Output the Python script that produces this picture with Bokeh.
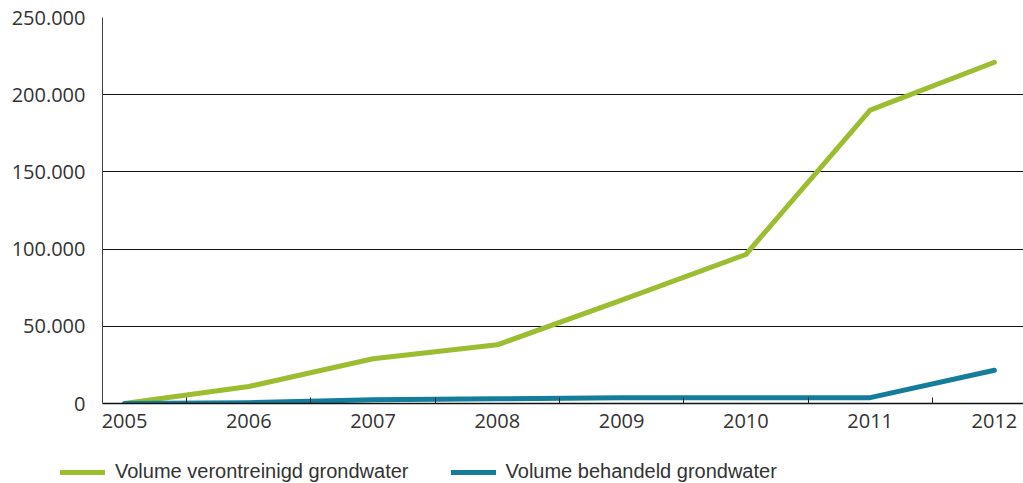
from bokeh.plotting import figure
from bokeh.layouts import column
from bokeh.models import Range1d, FixedTicker, Legend, LegendItem
from bokeh.embed import file_html
from bokeh.resources import INLINE

years = [2005, 2006, 2007, 2008, 2009, 2010, 2011, 2012]
verontreinigd = [0, 11000, 29000, 38000, 67000, 96500, 190000, 221000]
behandeld = [0, 500, 2500, 3000, 3800, 3800, 3800, 21500]
y_ticks = [0, 50000, 100000, 150000, 200000, 250000]
y_tick_labels = ["0", "50.000", "100.000", "150.000", "200.000", "250.000"]
series_names = ["Volume verontreinigd grondwater", "Volume behandeld grondwater"]

GREEN = "#9bbd2f"
BLUE = "#137d9b"
FONT = "Open Sans"
LFONT = "Liberation Sans"
TXT = "#333333"

p = figure(width=1023, height=435, output_backend="svg", toolbar_location=None,
           x_range=Range1d(2004.823, 2012.234), y_range=Range1d(0, 250000),
           min_border_left=102, min_border_top=17, min_border_right=0, min_border_bottom=32)
p.outline_line_color = None
p.background_fill_color = "white"

p.line(years, verontreinigd, line_color=GREEN, line_width=5, line_cap="round", line_join="round")
p.line(years, behandeld, line_color=BLUE, line_width=5, line_cap="round", line_join="round")

# x axis
xa = p.xaxis[0]
xa.ticker = FixedTicker(ticks=years, minor_ticks=[y + 0.5 for y in years[:-1]] + [years[0] - 0.5])
xa.major_tick_line_color = None
xa.minor_tick_in = 6
xa.minor_tick_out = 0
xa.minor_tick_line_color = "#222222"
xa.axis_line_color = "#111111"
xa.axis_line_width = 1.5
xa.major_label_standoff = 4
xa.major_label_text_font = FONT
xa.major_label_text_font_size = "20px"
xa.major_label_text_color = TXT

# y axis
ya = p.yaxis[0]
ya.ticker = FixedTicker(ticks=y_ticks)
ya.major_label_overrides = {t: s for t, s in zip(y_ticks, y_tick_labels)}
ya.major_tick_in = 0
ya.major_tick_out = 0
ya.minor_tick_line_color = None
ya.axis_line_color = "#444444"
ya.major_label_standoff = 17
ya.major_label_text_font = FONT
ya.major_label_text_font_size = "20px"
ya.major_label_text_color = TXT

p.xgrid.grid_line_color = None
p.ygrid.grid_line_color = "#111111"
p.ygrid.grid_line_width = 1
p.ygrid.ticker = FixedTicker(ticks=y_ticks[1:])

# legend strip below the chart (its renderers lie outside its visible range)
pl = figure(width=1023, height=48, output_backend="svg", toolbar_location=None,
            x_axis_location=None, y_axis_location=None,
            x_range=Range1d(0, 1), y_range=Range1d(-2, -1),
            min_border=0)
pl.outline_line_color = None
pl.grid.visible = False
r1 = pl.line(years, verontreinigd, line_color=GREEN, line_width=5, line_cap="round")
r2 = pl.line(years, behandeld, line_color=BLUE, line_width=5, line_cap="round")
legend = Legend(items=[LegendItem(label=series_names[0], renderers=[r1]),
                       LegendItem(label=series_names[1], renderers=[r2])],
                orientation="horizontal", location=(60, 0),
                border_line_color=None, background_fill_alpha=0,
                glyph_width=45, glyph_height=20, label_standoff=10, spacing=42,
                label_text_font=LFONT, label_text_font_size="20px", label_text_color=TXT,
                padding=0, margin=0)
pl.add_layout(legend, "center")

for fig in (p, pl):
    if "frame_align" in fig.properties():
        fig.frame_align = False

open("out.html", "w").write(file_html(column(p, pl, spacing=0), INLINE))
